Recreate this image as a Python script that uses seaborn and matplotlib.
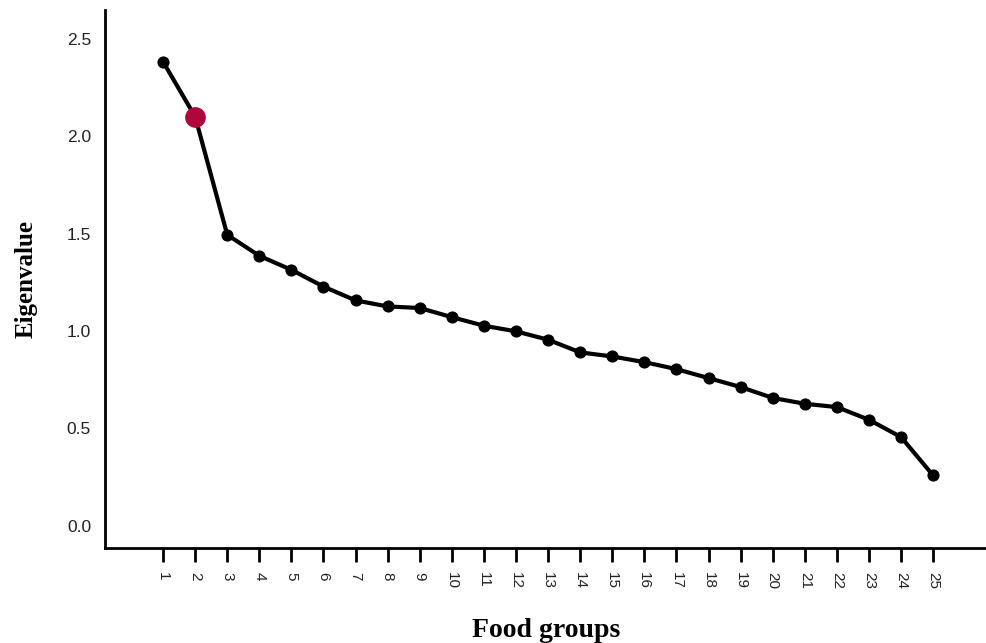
import matplotlib
matplotlib.use("Agg")
import matplotlib.pyplot as plt
import seaborn as sns
import pandas as pd

components = list(range(1, 26))
eigenvalues = [2.383, 2.101, 1.494, 1.386, 1.314, 1.228, 1.157, 1.126, 1.118, 1.071,
               1.027, 0.998, 0.955, 0.890, 0.869, 0.840, 0.804, 0.758, 0.712, 0.656,
               0.626, 0.609, 0.544, 0.455, 0.258]
highlight_component = [2]
highlight_value = [2.101]
y_ticks = [0.0, 0.5, 1.0, 1.5, 2.0, 2.5]

sns.set_style("white")
plt.rcParams['font.family'] = ['Liberation Sans', 'DejaVu Sans']
plt.rcParams['text.color'] = 'black'
plt.rcParams['axes.labelcolor'] = 'black'
plt.rcParams['xtick.color'] = 'black'
plt.rcParams['ytick.color'] = 'black'

df = pd.DataFrame({"Food groups": components, "Eigenvalue": eigenvalues})
hl = pd.DataFrame({"Food groups": highlight_component, "Eigenvalue": highlight_value})

fig = plt.figure(figsize=(9.87, 6.43), dpi=100)
ax = fig.add_axes([105/987, (643-548)/643, (987-105)/987, (548-10)/643])

sns.lineplot(data=df, x="Food groups", y="Eigenvalue", ax=ax, color="black",
             linewidth=3.0, marker="o", markersize=8, markeredgecolor="black",
             markerfacecolor="black")
sns.scatterplot(data=hl, x="Food groups", y="Eigenvalue", ax=ax, color="#B0063C",
                s=190, edgecolor="#B0063C", zorder=5)

ax.set_xlim(-0.81, 26.68)
ax.set_ylim(-0.115, 2.649)
ax.set_xticks(components)
ax.set_xticklabels([str(c) for c in components], rotation=270, fontsize=11)
ax.set_yticks(y_ticks)
ax.set_yticklabels([f"{v:.1f}" for v in y_ticks], fontsize=12.5)

for side in ["top", "right"]:
    ax.spines[side].set_visible(False)
for side in ["left", "bottom"]:
    ax.spines[side].set_color("black")
    ax.spines[side].set_linewidth(2)

ax.tick_params(axis="x", direction="out", length=10, width=2, color="black",
               labelcolor="#222222", pad=7, bottom=True)
ax.tick_params(axis="y", length=0, pad=10, labelcolor="#222222")

ax.set_xlabel("Food groups", fontsize=20, fontweight="bold", family=["Liberation Serif"],
              labelpad=21, color="black")
ax.set_ylabel("Eigenvalue", fontsize=18, fontweight="bold", family=["Liberation Serif"],
              labelpad=21, color="black")
ax.grid(False)

fig.savefig("out.png", dpi=100)
